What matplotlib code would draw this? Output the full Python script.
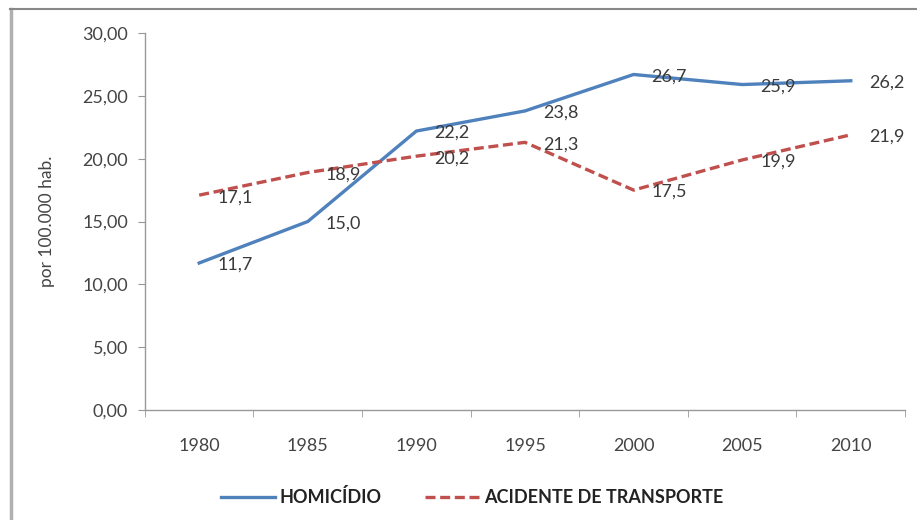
import matplotlib.pyplot as plt
from matplotlib.lines import Line2D

anos = ['1980', '1985', '1990', '1995', '2000', '2005', '2010']
homicidio = [11.7, 15.0, 22.2, 23.8, 26.7, 25.9, 26.2]
acidente = [17.1, 18.9, 20.2, 21.3, 17.5, 19.9, 21.9]

plt.rcParams['font.family'] = ['Lato', 'DejaVu Sans']

fig = plt.figure(figsize=(9.17, 5.2), dpi=100)
ax = fig.add_axes([0.158, 0.2115, 0.829, 0.725])

x = list(range(len(anos)))
ax.plot(x, homicidio, color='#4F81BD', lw=2.4, label='HOMICÍDIO')
ax.plot(x, acidente, color='#C0504D', lw=2.4, ls=(0, (3, 1.4)), label='ACIDENTE DE TRANSPORTE')

def fmt(v):
    return f'{v:.1f}'.replace('.', ',')

for serie in (homicidio, acidente):
    for i, v in enumerate(serie):
        ax.annotate(fmt(v), (i, v), xytext=(18, -2), textcoords='offset pixels',
                    ha='left', va='center', fontsize=13, color='#3a3a3a')

ax.set_xlim(-0.5, len(anos) - 0.5)
ax.set_ylim(0, 30)
yt = [0, 5, 10, 15, 20, 25, 30]
ax.set_yticks(yt)
ax.set_yticklabels([f'{t:.2f}'.replace('.', ',') for t in yt])
ax.set_xticks(x)
ax.set_xticklabels(anos)
ax.set_xticks([i + 0.5 for i in range(-1, len(anos))], minor=True)
ax.tick_params(axis='x', which='major', length=0, pad=20, labelsize=13, labelcolor='#444444')
ax.tick_params(axis='x', which='minor', length=5, color='#999999', direction='out')
ax.tick_params(axis='y', length=5, color='#999999', labelsize=13, labelcolor='#444444', pad=7)

for s in ['top', 'right']:
    ax.spines[s].set_visible(False)
for s in ['left', 'bottom']:
    ax.spines[s].set_color('#999999')
    ax.spines[s].set_linewidth(1)

ax.set_ylabel('por 100.000 hab.', fontsize=12.5, color='#444444', labelpad=20)

leg = fig.legend(loc='center', bbox_to_anchor=(0.515, 0.044), ncol=2, frameon=False,
                 prop={'weight': 'bold', 'size': 13}, handlelength=3.0, columnspacing=2.4,
                 handletextpad=0.25)
for t in leg.get_texts():
    t.set_color('#222222')

# moldura do gráfico (só esquerda e topo aparecem)
fig.lines.append(Line2D([11 / 917, 11 / 917], [0, 1 - 9 / 520], transform=fig.transFigure,
                        color='#b0b0b0', lw=2.5))
fig.lines.append(Line2D([10 / 917, 1], [1 - 9 / 520, 1 - 9 / 520], transform=fig.transFigure,
                        color='#888888', lw=1.5))

fig.savefig('out.png', dpi=100)
